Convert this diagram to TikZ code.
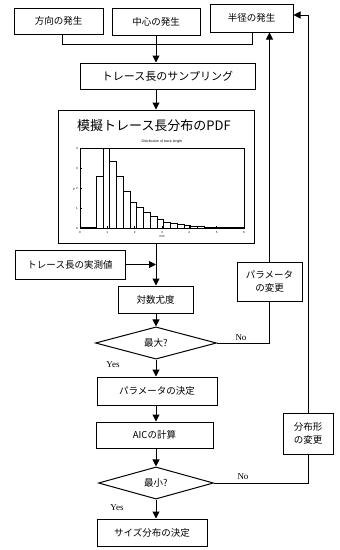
\documentclass[tikz,border=0pt]{standalone}
\usepackage{fontspec}
\setmainfont{Noto Sans CJK JP}
\newfontfamily\ynfont{Liberation Serif}
\newfontfamily\tinyfont{Liberation Sans}
\usetikzlibrary{arrows.meta,shapes.geometric}
\begin{document}
\begin{tikzpicture}[x=1pt,y=-1pt,
  box/.style={draw,line width=1pt,inner sep=0pt,align=center,font=\fontsize{9.5}{12.5}\selectfont},
  dia/.style={draw,diamond,line width=1pt,inner sep=0pt,font=\fontsize{9.5}{12}\selectfont},
  conn/.style={line width=1pt},
  arr/.style={line width=1pt,-{Triangle[length=7pt,width=7pt]}},
  yn/.style={font=\ynfont\fontsize{9}{10}\selectfont,inner sep=0pt},
  hbar/.style={draw,line width=0.5pt},
  tick/.style={font=\tinyfont\fontsize{3}{3}\selectfont,inner sep=0pt}]
\useasboundingbox (0,0) rectangle (340,550);

% top row
\node[box,minimum width=89pt,minimum height=26pt] (dir) at (58.5,21) {方向の発生};
\node[box,minimum width=88pt,minimum height=27pt] (cen) at (156,21.5) {中心の発生};
\node[box,minimum width=83pt,minimum height=28pt] (rad) at (251.5,18) {半径の発生};

\node[box,minimum width=175pt,minimum height=26pt,font=\fontsize{11}{13}\selectfont] (samp) at (167.5,76) {トレース長のサンプリング};

% PDF box
\node[draw,line width=1pt,minimum width=196pt,minimum height=133pt,inner sep=0pt] (pdf) at (156,176.5) {};
\node[inner sep=0pt,font=\fontsize{13}{15}\selectfont] (pdftitle) at (154,126) {模擬トレース長分布のPDF};
\node[tick,font=\tinyfont\fontsize{3.5}{3.5}\selectfont] (subt) at (162,142) {Distribution of trace length};
% histogram
\draw[line width=0.6pt] (80,148) rectangle (244,228);
\foreach \t [count=\i from 0] in {176,148,161,176,191,202,207,212,216,219,222,223,224,225,226,226.5,227}
  {\draw[hbar] ({96+6.75*\i},228) rectangle ({96+6.75*(\i+1)},\t);}
\draw[line width=0.5pt] (80,227.5) -- (96,227.5);
\draw[line width=0.5pt] (210.75,227.3) -- (244,227.3);
\foreach \k in {0,...,6}
  {\draw[line width=0.4pt] ({80+27.33*\k},228) -- ({80+27.33*\k},226);
   \node[tick] at ({80+27.33*\k},232) {\k};}
\foreach \k in {0,...,4}
  {\draw[line width=0.4pt] (80,{228-20*\k}) -- (82,{228-20*\k});
   \node[tick] at (77,{228-20*\k}) {\k};}
\node[tick] at (162,237) {mm};
\node[tick] at (74,189) {P};

% observed values
\node[box,minimum width=110pt,minimum height=29pt] (obs) at (70,264.5) {トレース長の実測値};
\node[box,minimum width=75pt,minimum height=27pt] (ll) at (155.5,299.5) {対数尤度};
\node[dia,minimum width=121pt,minimum height=30pt] (max) at (156,343) {最大?};
\node[box,minimum width=65pt,minimum height=39pt] (pchg) at (269.5,281.5) {パラメータ\\の変更};
\node[box,minimum width=120pt,minimum height=28pt] (pdet) at (157,391) {パラメータの決定};
\node[box,minimum width=117pt,minimum height=26pt] (aic) at (154.5,435) {AICの計算};
\node[dia,minimum width=115pt,minimum height=30pt] (min) at (156,483) {最小?};
\node[box,minimum width=50pt,minimum height=41pt] (dchg) at (308,433.5) {分布形\\の変更};
\node[box,minimum width=110pt,minimum height=27pt] (size) at (152,532.5) {サイズ分布の決定};

\coordinate (mx) at (156,0);

% connectors
\draw[conn] ([xshift=3.5pt]dir.south) -- ++(0,10) -| ([xshift=0.5pt]rad.south);
\draw[arr] (cen.south) -- (cen.south |- samp.north);
\draw[arr] (mx |- samp.south) -- (pdf.north);
\draw[arr] (pdf.south) -- (pdf.south |- ll.north);
\draw[arr] (obs.east) -- (obs.east -| mx);
\draw[arr] (mx |- ll.south) -- (max.north);
\draw[conn] (max.east) -| (pchg.south);
\draw[arr] (pchg.north) -- (pchg.north |- rad.south);
\draw[arr] (max.south) -- (max.south |- pdet.north);
\draw[arr] (mx |- pdet.south) -- (mx |- aic.north);
\draw[arr] (mx |- aic.south) -- (min.north);
\draw[conn] (min.east) -| (dchg.south);
\draw[arr] (dchg.north) |- ([yshift=3pt]rad.east);
\draw[arr] (min.south) -- (min.south |- size.north);

% labels
\node[yn] (no1) at (241,338) {No};
\node[yn] (yes1) at (113,365) {Yes};
\node[yn] (no2) at (243,477) {No};
\node[yn] (yes2) at (117,508) {Yes};
\end{tikzpicture}
\end{document}
